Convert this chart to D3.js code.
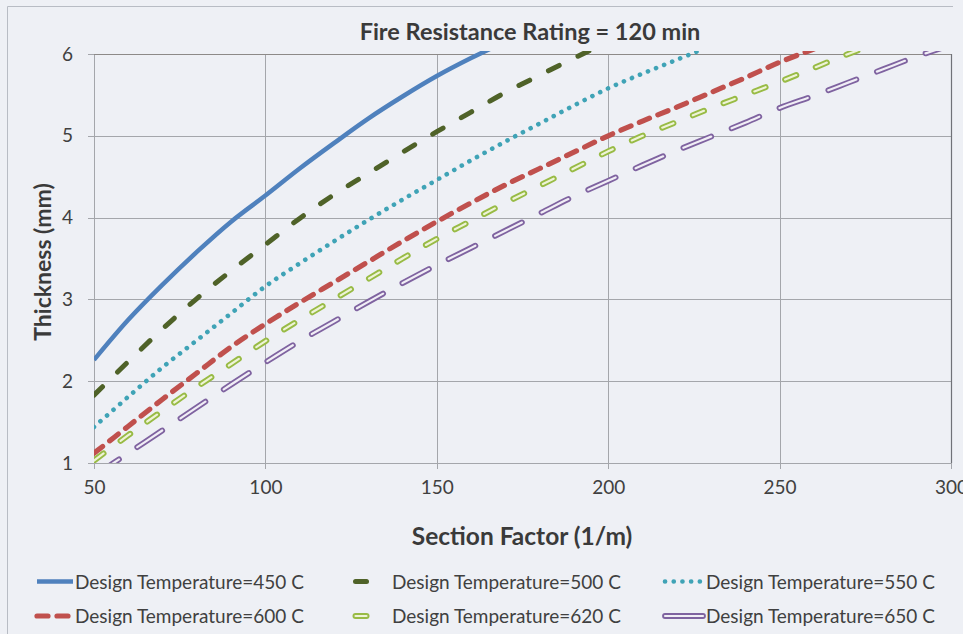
<!DOCTYPE html>
<html>
<head>
<meta charset="utf-8">
<script src="https://cdn.jsdelivr.net/npm/d3@7"></script>
<style>
  html, body { margin: 0; padding: 0; background: #eef0f5; }
  svg { display: block; font-family: Lato, "Open Sans", sans-serif; }
</style>
</head>
<body>
<svg id="chart" width="963" height="634"></svg>
<script>
// section factor (1/m), shared by every series
const sectionFactor = [50, 60, 70, 80, 90, 100, 110, 120, 130, 140, 150, 160, 170,
  180, 190, 200, 210, 220, 230, 240, 250, 260, 270, 280, 290, 300];

// thickness (mm), one value per section factor from 50 on
const t450 = [2.26, 2.75, 3.18, 3.58, 3.95, 4.27, 4.60, 4.91, 5.21, 5.48, 5.73, 5.95, 6.15];
const t500 = [1.83, 2.24, 2.64, 3.01, 3.35, 3.67, 3.99, 4.28, 4.54, 4.80, 5.05, 5.29, 5.53, 5.74, 5.95, 6.15];
const t550 = [1.44, 1.81, 2.17, 2.50, 2.83, 3.16, 3.44, 3.71, 3.97, 4.22, 4.46, 4.70, 4.93, 5.15, 5.37, 5.58, 5.76, 5.93, 6.10];
const t600 = [1.12, 1.45, 1.78, 2.10, 2.42, 2.70, 2.96, 3.21, 3.46, 3.71, 3.95, 4.18, 4.40, 4.60, 4.80, 5.00, 5.18, 5.35, 5.53, 5.71, 5.90, 6.06];
const t620 = [1.03, 1.34, 1.64, 1.93, 2.21, 2.49, 2.75, 3.00, 3.25, 3.50, 3.74, 3.96, 4.18, 4.39, 4.60, 4.81, 5.00, 5.17, 5.34, 5.50, 5.66, 5.83, 6.00, 6.15];
const t650 = [0.84, 1.12, 1.40, 1.68, 1.96, 2.23, 2.49, 2.73, 2.97, 3.20, 3.42, 3.63, 3.84, 4.05, 4.26, 4.45, 4.64, 4.82, 4.99, 5.16, 5.34, 5.49, 5.65, 5.81, 5.97, 6.11];

const seriesNames = ["Design Temperature=450 C", "Design Temperature=500 C", "Design Temperature=550 C",
  "Design Temperature=600 C", "Design Temperature=620 C", "Design Temperature=650 C"];
const seriesValues = [t450, t500, t550, t600, t620, t650];

const xTicks = [50, 100, 150, 200, 250, 300];
const yTicks = [1, 2, 3, 4, 5, 6];

// line looks: outer stroke, optional pale inner stroke for the outlined ones
const styles = [
  { color: "#4f81bd", width: 4.5, dash: null, cap: "butt" },
  { color: "#4f6228", width: 5, dash: "12,21", cap: "round" },
  { color: "#3fa3b6", width: 4.6, dash: "0.1,8.6", cap: "round" },
  { color: "#c0504d", width: 5.2, dash: "11,9", cap: "round" },
  { color: "#98bb45", width: 6, dash: "12,21", cap: "round", inner: "#eef3d6", innerWidth: 2.2 },
  { color: "#7f63a0", width: 5.8, dash: "30,22", cap: "round", inner: "#f1eef6", innerWidth: 2.2 }
];

const svg = d3.select("#chart");
const plot = { left: 94, right: 951, top: 54, bottom: 463 };

const x = d3.scaleLinear().domain([50, 300]).range([plot.left, plot.right]);
const y = d3.scaleLinear().domain([1, 6]).range([plot.bottom, plot.top]);

// outer chart frame
svg.append("path")
  .attr("d", `M953,6.5H7.5V634`)
  .attr("fill", "none")
  .attr("stroke", "#b8bcc4")
  .attr("stroke-width", 1);

// title
svg.append("text")
  .attr("x", 530).attr("y", 40)
  .attr("text-anchor", "middle")
  .style("font-size", "23.5px").style("font-weight", "bold").style("fill", "#3a3a3a")
  .text("Fire Resistance Rating = 120 min");

// gridlines
const grid = svg.append("g").attr("stroke", "#a4a6ab").attr("stroke-width", 1);
grid.selectAll(".gx").data(xTicks).join("line")
  .attr("x1", d => Math.round(x(d)) + 0.5).attr("x2", d => Math.round(x(d)) + 0.5)
  .attr("y1", plot.top).attr("y2", plot.bottom + 6);
grid.selectAll(".gy").data(yTicks).join("line")
  .attr("x1", plot.left - 6).attr("x2", plot.right)
  .attr("y1", d => Math.round(y(d)) + 0.5).attr("y2", d => Math.round(y(d)) + 0.5);

// plot border right and top a bit darker
svg.append("line")
  .attr("x1", plot.right + 0.5).attr("x2", plot.right + 0.5)
  .attr("y1", plot.top).attr("y2", plot.bottom)
  .attr("stroke", "#707278").attr("stroke-width", 1.2);
svg.append("line")
  .attr("x1", plot.left).attr("x2", plot.right)
  .attr("y1", plot.top + 0.5).attr("y2", plot.top + 0.5)
  .attr("stroke", "#8d8a88").attr("stroke-width", 1.2);

// axes (labels only, lines drawn above)
const xAxis = svg.append("g")
  .attr("transform", `translate(0,${plot.bottom + 6})`)
  .call(d3.axisBottom(x).tickValues(xTicks).tickSize(0).tickPadding(12));
const yAxis = svg.append("g")
  .attr("transform", `translate(${plot.left - 6},0)`)
  .call(d3.axisLeft(y).tickValues(yTicks).tickSize(0).tickPadding(15).tickFormat(d3.format("d")));
[xAxis, yAxis].forEach(a => {
  a.select(".domain").remove();
  a.selectAll("text").style("font-size", "19px").style("fill", "#404040")
    .style("font-family", "Lato, sans-serif");
});

// axis titles
svg.append("text")
  .attr("x", 522).attr("y", 545)
  .attr("text-anchor", "middle")
  .style("font-size", "24.5px").style("font-weight", "bold").style("fill", "#3a3a3a")
  .text("Section Factor (1/m)");
svg.append("text")
  .attr("transform", "translate(51,262) rotate(-90)")
  .attr("text-anchor", "middle")
  .style("font-size", "23px").style("font-weight", "bold").style("fill", "#3a3a3a")
  .text("Thickness (mm)");

// clip to plot
svg.append("clipPath").attr("id", "plotClip")
  .append("rect")
  .attr("x", plot.left).attr("y", plot.top - 3)
  .attr("width", plot.right - plot.left).attr("height", plot.bottom - plot.top + 3);

const line = d3.line()
  .x((d, i) => x(sectionFactor[i]))
  .y(d => y(d))
  .curve(d3.curveCatmullRom.alpha(0.5));

const lines = svg.append("g").attr("clip-path", "url(#plotClip)");
seriesValues.forEach((vals, i) => {
  const s = styles[i];
  lines.append("path")
    .attr("d", line(vals))
    .attr("fill", "none")
    .attr("stroke", s.color)
    .attr("stroke-width", s.width)
    .attr("stroke-linecap", s.cap)
    .attr("stroke-dasharray", s.dash);
  if (s.inner) {
    lines.append("path")
      .attr("d", line(vals))
      .attr("fill", "none")
      .attr("stroke", s.inner)
      .attr("stroke-width", s.innerWidth)
      .attr("stroke-linecap", s.cap)
      .attr("stroke-dasharray", s.dash);
  }
});

// legend
const legendCols = [
  { sx0: 37, sx1: 73, tx: 75 },
  { sx0: 355.5, sx1: 366.5, tx: 392 },
  { sx0: 665, sx1: 703, tx: 706 }
];
const legendRows = [581.5, 616];
const legend = svg.append("g");
seriesNames.forEach((name, i) => {
  const col = legendCols[i % 3];
  const cy = legendRows[Math.floor(i / 3)];
  const s = styles[i];
  // the 650 sample is drawn as one solid outlined bar
  const dash = i === 5 ? null : s.dash;
  legend.append("line")
    .attr("x1", col.sx0).attr("x2", col.sx1).attr("y1", cy).attr("y2", cy)
    .attr("stroke", s.color).attr("stroke-width", s.width)
    .attr("stroke-linecap", s.cap).attr("stroke-dasharray", dash);
  if (s.inner) {
    legend.append("line")
      .attr("x1", col.sx0).attr("x2", col.sx1).attr("y1", cy).attr("y2", cy)
      .attr("stroke", s.inner).attr("stroke-width", s.innerWidth)
      .attr("stroke-linecap", s.cap).attr("stroke-dasharray", dash);
  }
  legend.append("text")
    .attr("x", col.tx).attr("y", cy + 7)
    .style("font-size", "19px").style("fill", "#404040")
    .text(name);
});
</script>
</body>
</html>
